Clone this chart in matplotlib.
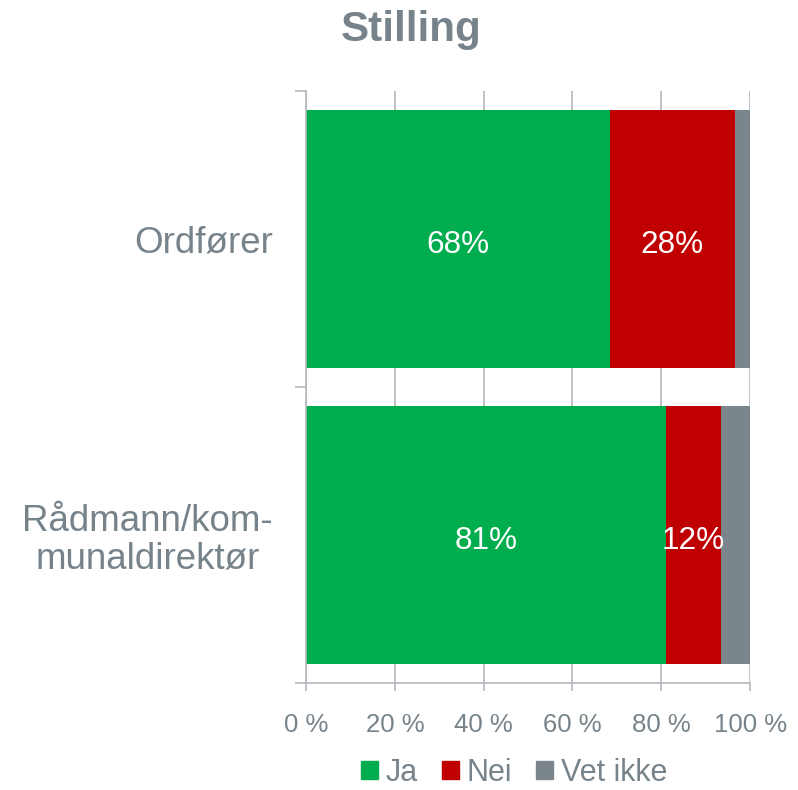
import numpy as np
import matplotlib.pyplot as plt
from matplotlib.patches import Patch

plt.rcParams['font.family'] = ['Liberation Sans', 'DejaVu Sans']

# data (percent)
categories = ['Ordfører', 'Rådmann/kom-\nmunaldirektør']
ja = [68.4, 81.0]
nei = [28.2, 12.4]
vet_ikke = [3.4, 6.6]
series_names = ['Ja', 'Nei', 'Vet ikke']
ja_labels = ['68%', '81%']
nei_labels = ['28%', '12%']
ticks = [0, 20, 40, 60, 80, 100]
tick_labels = ['0 %', '20 %', '40 %', '60 %', '80 %', '100 %']

green = '#00ad4e'
red = '#c00000'
grey = '#7a868c'
txt = '#77838b'
grid_col = '#b4b8bc'

fig = plt.figure(figsize=(7.98, 7.90), dpi=100)
ax = fig.add_axes([0.3835, 0.135, 0.5565, 0.7498])

y = np.arange(len(categories))
ja = np.array(ja)
nei = np.array(nei)
vet_ikke = np.array(vet_ikke)
h = 0.87

b1 = ax.barh(y, ja, height=h, color=green, zorder=2)
b2 = ax.barh(y, nei, left=ja, height=h, color=red, zorder=2)
b3 = ax.barh(y, vet_ikke, left=ja + nei, height=h, color=grey, zorder=2)

# centre labels, nudged down a little like the original
for bars, labs in [(b1, ja_labels), (b2, nei_labels)]:
    for r, lab in zip(bars, labs):
        ax.annotate(lab, (r.get_x() + r.get_width() / 2, r.get_y() + r.get_height() / 2),
                    xytext=(0, -4), textcoords='offset points', ha='center', va='center',
                    color='white', fontsize=22.7)

ax.set_xlim(0, 100)
ax.set_ylim(1.5, -0.5)
ax.set_xticks(ticks)
ax.set_xticklabels(tick_labels, fontsize=18.5, color=txt)
ax.set_yticks(y)
ax.set_yticklabels(categories, fontsize=26.5, color=txt, multialignment='center',
                   linespacing=1.1)
ax.set_yticks([-0.5, 0.5, 1.5], minor=True)

ax.tick_params(axis='y', which='major', length=0, pad=24)
ax.tick_params(axis='y', which='minor', length=8, width=1.2, color=grid_col)
ax.tick_params(axis='x', length=6, width=1.2, color=grid_col, pad=15)

ax.grid(axis='x', color=grid_col, linewidth=1.2, zorder=0)
ax.set_axisbelow(True)
for s in ['top', 'right']:
    ax.spines[s].set_visible(False)
for s in ['left', 'bottom']:
    ax.spines[s].set_color(grid_col)
    ax.spines[s].set_linewidth(1.2)

fig.text(411 / 798, 1 - 30 / 790, 'Stilling', ha='center', va='center',
         fontsize=30.4, fontweight='bold', color=txt)

handles = [Patch(color=c) for c in [green, red, grey]]
leg = fig.legend(handles, series_names, loc='center', bbox_to_anchor=(514 / 798, 1 - 773 / 790),
                 ncol=3, frameon=False, fontsize=22, handlelength=0.55, handleheight=0.55,
                 handletextpad=0.25, columnspacing=0.8, borderpad=0)
for t in leg.get_texts():
    t.set_color(txt)

fig.savefig('out.png', dpi=100)
